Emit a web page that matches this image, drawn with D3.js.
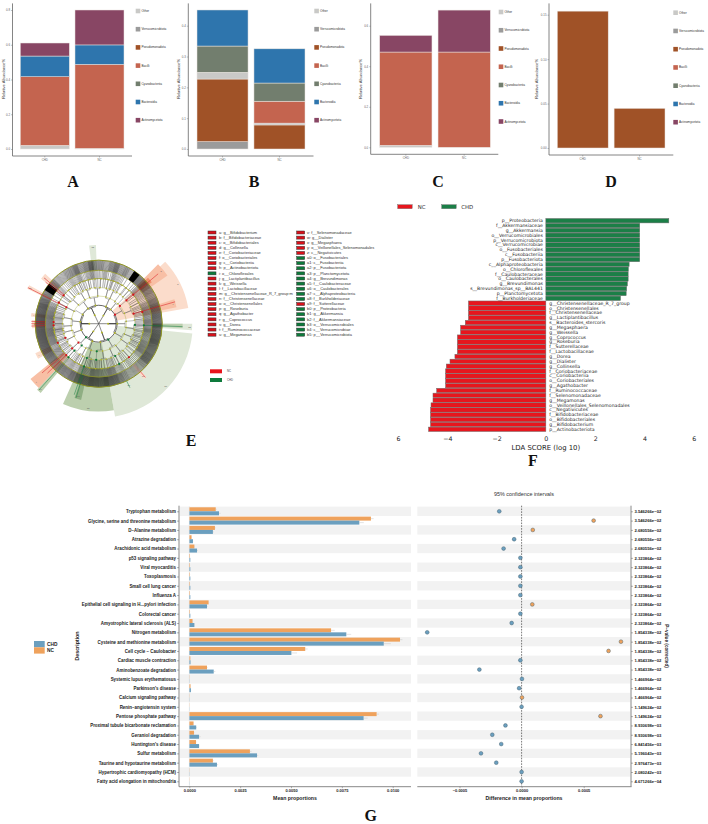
<!DOCTYPE html>
<html>
<head>
<meta charset="utf-8">
<script src="https://cdn.jsdelivr.net/npm/d3@7"></script>
<style>
  html, body { margin: 0; background: #fff; }
  svg { display: block; font-family: "Liberation Sans", Arial, sans-serif; }
  .tiny-axis text { font-size: 2.9px; fill: #666; }
  .tiny-axis line { stroke: #666; stroke-width: 0.4; }
  .tiny-axis path { display: none; }
  .panel-letter { font-family: "Liberation Serif", serif; font-weight: 700; font-size: 16px; text-anchor: middle; fill: #111; }
  .lda text { font-family: "DejaVu Sans", sans-serif; }
  .bold4 text { font-weight: 700; fill: #222; }
</style>
</head>
<body>
<div id="chart"></div>
<script>
// ---- Community composition (panels A-D) ----
const groups = ["CHD", "NC"];
const taxa = ["Other", "Verrucomicrobiota", "Pseudomonadota", "Bacilli", "Cyanobacteriia", "Bacteroidia", "Actinomycetota"];
const taxaColors = ["#c9c9c7", "#9b9b9b", "#a05227", "#c4644f", "#727e6e", "#2e75ad", "#884664"];

const stackOrderDefault = ["Other", "Verrucomicrobiota", "Pseudomonadota", "Bacilli", "Cyanobacteriia", "Bacteroidia", "Actinomycetota"];
const stackOrderB = ["Verrucomicrobiota", "Pseudomonadota", "Other", "Bacilli", "Cyanobacteriia", "Bacteroidia", "Actinomycetota"];

// abundances listed in the same order as `taxa`
const panelA_CHD = [0.021, 0, 0, 0.395, 0, 0.119, 0.075];
const panelA_NC  = [0.004, 0, 0, 0.483, 0, 0.112, 0.201];
const panelB_CHD = [0.022, 0.024, 0.203, 0, 0.085, 0.117, 0];
const panelB_NC  = [0.006, 0, 0.078, 0.071, 0.059, 0.111, 0];
const panelC_CHD = [0.010, 0, 0, 0.460, 0, 0, 0.082];
const panelC_NC  = [0, 0, 0, 0.470, 0, 0, 0.207];
const panelD_CHD = [0, 0, 0.154, 0, 0, 0, 0];
const panelD_NC  = [0, 0, 0.0446, 0, 0, 0, 0];

// ---- LEfSe cladogram (panel E) ----
const cladogramLegendLeft = [
  "a: g__Bifidobacterium", "b: f__Bifidobacteriaceae", "c: o__Bifidobacteriales", "d: g__Collinsella",
  "e: f__Coriobacteriaceae", "f: o__Coriobacteriales", "g: c__Coriobacteriia", "h: p__Actinobacteriota",
  "i: o__Chloroflexales", "j: g__Lactiplantibacillus", "k: g__Weissella", "l: f__Lactobacillaceae",
  "m: g__Christensenellaceae_R_7_group:m", "n: f__Christensenellaceae", "o: o__Christensenellales",
  "p: g__Roseburia", "q: g__Agathobacter", "r: g__Coprococcus", "s: g__Dorea", "t: f__Ruminococcaceae", "u: g__Megamonas"
];
const cladogramLegendRight = [
  "v: f__Selenomonadaceae", "w: g__Dialister", "x: g__Megasphaera", "y: o__Veillonellales_Selenomonadales",
  "z: c__Negativicutes", "a0: o__Fusobacteriales", "a1: c__Fusobacteriia", "a2: p__Fusobacteriota",
  "a3: p__Planctomycetota", "a4: g__Brevundimonas", "a5: f__Caulobacteraceae", "a6: o__Caulobacterales",
  "a7: c__Alphaproteobacteria", "a8: f__Burkholderiaceae", "a9: f__Sutterellaceae", "b0: p__Proteobacteria",
  "b1: g__Akkermansia", "b2: f__Akkermansiaceae", "b3: o__Verrucomicrobiales", "b4: c__Verrucomicrobiae", "b5: p__Verrucomicrobiota"
];
const legendLeftGroup  = [1,1,1,1,1,1,1,1,2,1,1,1,1,1,1,1,1,1,1,1,1];
const legendRightGroup = [1,1,1,1,1,2,2,2,2,2,2,2,2,2,1,2,2,2,2,2,2];

// clade highlights: start deg, end deg, inner reach, outer reach, group (1 NC, 2 CHD), strength, tag
const cladeHighlights = [
  [96, 170, 30, 148, 2, 0, "b0"],
  [170, 204, 30, 138, 2, 1, "b5"],
  [193, 198, 100, 123, 2, 2, "b4"],
  [47, 80, 30, 143, 1, 0, "h"],
  [45, 55, 84, 132, 1, 1, "g"],
  [47, 52, 84, 106, 1, 2, ""],
  [72, 78, 84, 125, 1, 1, "f"],
  [308, 313, 84, 115, 1, 0, "i"],
  [296, 299, 84, 125, 1, 0, "a9"],
  [276, 279, 84, 107, 1, 0, "j"],
  [266, 273, 84, 105, 1, 0, "k"],
  [240, 245, 84, 110, 1, 0, "l"],
  [223, 231, 71, 138, 1, 1, "t"],
  [220, 223, 71, 142, 2, 1, "a4"],
  [353, 358, 84, 124, 2, 0, "a3"],
  [90, 94, 84, 147, 2, 0, "a2"],
  [90, 93, 84, 132, 2, 1, ""],
  [152, 156, 84, 112, 2, 0, "a8"],
  [138, 141, 84, 112, 1, 0, "a9"]
];

// tree nodes per ring: angle deg, index of the parent on the ring within, group
const ring1Nodes = [[270,0,0],[90,0,0],[335,0,0],[30,0,0],[160,0,0],[215,0,0]];
const ring2Nodes = [[276,0,0],[250,0,0],[300,0,0],[325,2,0],[350,2,0],[23,3,0],[40,3,0],[61,1,1],[90,1,0],[120,1,0],[149,4,2],[175,4,0],[200,5,0],[223,5,2]];
const ring3Nodes = [[266,0,0],[280,0,0],[243,1,0],[256,1,0],[297,2,0],[313,3,0],[330,3,0],[341,4,0],[358,4,0],[15,5,0],[24,5,0],[36,6,0],[44,6,0],[50,7,1],[68,7,0],[85,8,0],[98,8,0],[112,9,0],[125,9,0],[142,10,0],[156,10,0],[172,11,0],[184,11,2],[196,12,0],[208,12,0],[227,13,1],[218,13,2]];
const ring4Nodes = [[262,0,0],[270,0,0],[278,1,0],[285,1,0],[240,2,0],[247,2,1],[254,3,0],[259,3,0],[294,4,0],[297,4,1],[308,5,0],[318,5,0],[326,6,0],[334,6,0],[340,7,0],[346,7,0],[354,8,0],[2,8,0],[12,9,0],[18,9,0],[24,10,0],[30,10,0],[36,11,0],[42,12,0],[50,13,1],[62,14,0],[74,14,1],[84,15,0],[92,16,2],[100,16,0],[108,17,0],[116,17,0],[122,18,0],[129,18,0],[138,19,0],[146,19,0],[153,20,2],[160,20,0],[168,21,0],[176,21,0],[184,22,2],[192,23,0],[199,23,2],[206,24,0],[212,24,0],[222,26,2],[227,25,1],[233,25,0]];
const ring5Nodes = [[260,0,0],[264,0,0],[268,1,1],[272,1,1],[278,2,0],[284,3,0],[240,4,0],[245,5,1],[252,6,0],[258,7,0],[294,8,0],[298,9,1],[309,10,1],[318,11,0],[328,12,0],[335,13,0],[341,14,0],[347,15,0],[355,16,0],[3,17,0],[12,18,0],[19,19,0],[25,20,0],[31,21,0],[37,22,0],[42,23,0],[50,24,1],[62,25,0],[75,26,1],[84,27,0],[92,28,2],[101,29,0],[108,30,0],[116,31,0],[122,32,0],[129,33,0],[138,34,1],[146,35,0],[153,36,2],[160,37,0],[168,38,0],[176,39,0],[184,40,0],[192,41,0],[199,42,2],[206,43,0],[212,44,0],[222,45,2],[226,46,1],[233,47,0]];

// branch counts per 5 degree sector, starting at north and running clockwise
const branchCountsInner = [
  1,2,1,3,1,2,0,1,1, 2,1,2,1,3,2,3,2,3, 3,2,2,3,2,3,2,1,1, 1,2,1,1,2,3,2,1,2,
  3,2,3,2,1,2,3,2,1, 2,2,3,2,3,2,3,4,3, 3,4,3,2,2,1,1,2,1, 1,2,1,2,2,1,2,1,2
];
const branchCountsMiddle = [
  3,5,2,6,4,3,1,1,2, 7,5,4,3,6,8,8,7,9, 8,9,7,6,8,9,10,6,3, 3,4,2,5,4,8,9,6,7,
  8,9,6,7,5,4,6,5,3, 5,7,8,6,9,9,10,10,9, 9,10,9,8,6,2,1,3,5, 2,3,5,4,6,3,5,7,4
];
const branchCountsOuter = [
  8,6,9,12,7,9,6,10,14, 14,12,10,8,10,12,12,13,12, 14,13,14,15,13,12,14,15,10, 8,7,6,8,10,13,14,15,13,
  14,15,13,14,12,13,11,12,10, 9,13,14,15,15,15,15,15,14, 15,15,14,15,13,10,11,9,12, 7,6,8,9,12,7,9,14,8
];

// fully collapsed clades drawn solid: start deg, end deg, inner reach, outer reach
const solidClades = [[34, 40, 84, 100], [302, 309, 84, 100]];
// significant lineages: angle deg, from reach, to reach, group
const markedLineages = [
  [74,57,125,1],[50,57,100,1],[50,100,122,1],[297,57,125,1],[308,71,106,1],[310,71,112,1],[268,84,106,1],[270,84,106,1],[272,84,106,1],
  [226,71,112,1],[229,71,118,1],[199,71,118,2],[197,84,122,2],[92,71,132,2],[222,100,140,2],[139,100,112,1],[154,100,112,2]
];

// ---- LDA scores (panel F) ----
const ldaTaxa = [
  "p__Proteobacteria","f__Akkermansiaceae","g__Akkermansia","o__Verrucomicrobiales","p__Verrucomicrobiota","c__Verrucomicrobiae",
  "o__Fusobacteriales","c__Fusobacteriia","p__Fusobacteriota","c__Alphaproteobacteria","o__Chloroflexales","f__Caulobacteraceae",
  "o__Caulobacterales","g__Brevundimonas","s__Brevundimonas_sp__BAL441","p__Planctomycetota","f__Burkholderiaceae",
  "g__Christensenellaceae_R_7_group","o__Christensenellales","f__Christensenellaceae","g__Lactiplantibacillus","s__Bacteroides_stercoris",
  "g__Megasphaera","g__Weissella","g__Coprococcus","g__Roseburia","f__Sutterellaceae","f__Lactobacillaceae","g__Dorea","g__Dialister",
  "g__Collinsella","f__Coriobacteriaceae","c__Coriobacteriia","o__Coriobacteriales","g__Agathobacter","f__Ruminococcaceae",
  "f__Selenomonadaceae","g__Megamonas","o__Veillonellales_Selenomonadales","c__Negativicutes","f__Bifidobacteriaceae",
  "o__Bifidobacteriales","g__Bifidobacterium","p__Actinobacteriota"
];
const ldaScores = [
  4.99,3.81,3.81,3.81,3.81,3.81,3.81,3.81,3.81,3.38,3.35,3.34,3.34,3.31,3.28,3.26,3.03,
  -3.14,-3.14,-3.14,-3.14,-3.27,-3.46,-3.46,-3.59,-3.59,-3.59,-3.59,-3.69,-3.89,-4.04,-4.07,-4.07,-4.07,-4.07,-4.43,-4.58,-4.58,-4.66,-4.68,-4.68,-4.68,-4.68,-4.76
];

// ---- KEGG pathway comparison (panel G) ----
const pathways = [
  "Tryptophan metabolism","Glycine, serine and threonine metabolism","D\u2212Alanine metabolism","Atrazine degradation","Arachidonic acid metabolism",
  "p53 signaling pathway","Viral myocarditis","Toxoplasmosis","Small cell lung cancer","Influenza A",
  "Epithelial cell signaling in H...pylori infection","Colorectal cancer","Amyotrophic lateral sclerosis (ALS)","Nitrogen metabolism","Cysteine and methionine metabolism",
  "Cell cycle \u2212 Caulobacter","Cardiac muscle contraction","Aminobenzoate degradation","Systemic lupus erythematosus","Parkinson's disease",
  "Calcium signaling pathway","Renin\u2212angiotensin system","Pentose phosphate pathway","Proximal tubule bicarbonate reclamation","Geraniol degradation",
  "Huntington's disease","Sulfur metabolism","Taurine and hypotaurine metabolism","Hypertrophic cardiomyopathy (HCM)","Fatty acid elongation in mitochondria"
];
const meanNC = [.00130,.00893,.00126,.00011,.00025,.00003,.00003,.00003,.00003,.00003,.00095,.00003,.00016,.00697,.01036,.00570,.00005,.00087,.00001,.00006,.00001,.00001,.00921,.00021,.00023,.00033,.00298,.00116,.00001,.00001];
const meanCHD = [.00146,.00836,.00116,.00018,.00038,.00005,.00005,.00005,.00005,.00005,.00087,.00005,.00025,.00772,.00956,.00502,.00006,.00120,.00001,.00008,.00001,.00001,.00857,.00034,.00048,.00048,.00333,.00136,.00001,.00001];
const errNC = [.00005,.00013,.00004,.00001,.00003,.00001,.00001,.00001,.00001,.00001,.00003,.00001,.00002,.00018,.00012,.00012,.00001,.00003,.00001,.00001,.00001,.00001,.00012,.00002,.00002,.00002,.00008,.00004,.00001,.00001];
const errCHD = [.00008,.00022,.00004,.00001,.00005,.00001,.00001,.00001,.00001,.00001,.00003,.00001,.00003,.00024,.00035,.00028,.00001,.00008,.00001,.00001,.00001,.00001,.00020,.00004,.00008,.00002,.00006,.00006,.00001,.00001];
const meanDiff = [-.00018,.00058,.00009,-.00006,-.000145,-.00001,-.00001,-.00001,-.00001,-.00001,.000086,-.00001,-.00008,-.00076,.00080,.00070,-.00001,-.00034,.000003,-.00002,.000003,0,.000635,-.00013,-.000236,-.000164,-.000327,-.000204,0,0];
const enrichedIn = ["CHD","NC","NC","CHD","CHD","CHD","CHD","CHD","CHD","CHD","NC","CHD","CHD","CHD","NC","NC","CHD","CHD","CHD","CHD","NC","CHD","NC","CHD","CHD","CHD","CHD","CHD","CHD","CHD"];
const correctedP = [
  "3.546266e\u221202","3.546266e\u221202","2.680556e\u221202","2.680556e\u221202","2.680556e\u221202",
  "2.323864e\u221202","2.323864e\u221202","2.323864e\u221202","2.323864e\u221202","2.323864e\u221202","2.323864e\u221202","2.323864e\u221202","2.323864e\u221202",
  "1.854338e\u221202","1.854338e\u221202","1.854338e\u221202","1.854338e\u221202","1.854338e\u221202",
  "1.466964e\u221202","1.466964e\u221202","1.466964e\u221202","1.149624e\u221202","1.149624e\u221202",
  "8.930698e\u221203","8.930698e\u221203","6.841456e\u221203","5.196043e\u221203","2.976473e\u221203","2.080242e\u221203","4.671266e\u221204"
];

const svg = d3.select("#chart").append("svg").attr("width", 708).attr("height", 824);

// ---------- stacked composition panels ----------
function compositionPanel(cfg) {
  const g = svg.append("g");
  const rows = groups.map((name, i) => {
    const row = { group: name };
    taxa.forEach((t, j) => { row[t] = cfg.values[i][j]; });
    return row;
  });
  const x = d3.scaleBand().domain(groups).range([cfg.barLeft, cfg.barRight]).paddingInner(0.104);
  const y = d3.scaleLinear().domain([0, cfg.topTick]).range([cfg.base, cfg.topY]);
  const layers = d3.stack().keys(cfg.order)(rows);

  g.selectAll("g.layer").data(layers).join("g")
    .attr("fill", d => taxaColors[taxa.indexOf(d.key)])
    .selectAll("rect").data(d => d.filter(s => s[1] > s[0])).join("rect")
    .attr("x", d => x(d.data.group)).attr("width", x.bandwidth())
    .attr("y", d => y(d[1])).attr("height", d => y(d[0]) - y(d[1]))
    .attr("stroke", "#e9e4e0").attr("stroke-width", 0.5);

  g.append("line").attr("x1", cfg.axisX).attr("x2", cfg.axisX).attr("y1", 3.4).attr("y2", cfg.axisY)
    .attr("stroke", "#666").attr("stroke-width", 0.8);
  g.append("line").attr("x1", cfg.axisX).attr("x2", cfg.axisEnd).attr("y1", cfg.axisY).attr("y2", cfg.axisY)
    .attr("stroke", "#666").attr("stroke-width", 0.8);

  g.append("g").attr("class", "tiny-axis").attr("transform", `translate(${cfg.axisX},0)`)
    .call(d3.axisLeft(y).tickValues(cfg.ticks).tickFormat(d3.format(cfg.fmt)).tickSize(1.5).tickPadding(1));
  g.append("g").attr("class", "tiny-axis").attr("transform", `translate(0,${cfg.axisY})`)
    .call(d3.axisBottom(x).tickSize(1.5).tickPadding(1.2));

  g.append("text").attr("transform", `translate(${cfg.labelX},79) rotate(-90)`)
    .attr("text-anchor", "middle").attr("font-size", 4.1).attr("fill", "#333").text("Relative Abundance%");

  taxa.forEach((t, i) => {
    const ly = cfg.legendY + i * cfg.legendStep;
    g.append("rect").attr("x", cfg.legendX).attr("y", ly - 2.3).attr("width", 4.6).attr("height", 4.6).attr("fill", taxaColors[i]);
    g.append("text").attr("x", cfg.legendX + 5.7).attr("y", ly + 1).attr("font-size", 3.1).attr("fill", "#333").text(t);
  });
}

compositionPanel({ values: [panelA_CHD, panelA_NC], order: stackOrderDefault, barLeft: 20.3, barRight: 124, base: 149, topY: 10, topTick: 0.8,
  ticks: [0, 0.2, 0.4, 0.6, 0.8], fmt: ".1f", axisX: 12.5, axisY: 156, axisEnd: 132, labelX: 4.7, legendX: 135.7, legendY: 11, legendStep: 18.2 });
compositionPanel({ values: [panelB_CHD, panelB_NC], order: stackOrderB, barLeft: 197, barRight: 305, base: 149, topY: 25.7, topTick: 0.4,
  ticks: [0, 0.1, 0.2, 0.3, 0.4], fmt: ".1f", axisX: 188.3, axisY: 156, axisEnd: 313.5, labelX: 180, legendX: 314.3, legendY: 11, legendStep: 18.2 });
compositionPanel({ values: [panelC_CHD, panelC_NC], order: stackOrderDefault, barLeft: 379.7, barRight: 490.3, base: 147.3, topY: 25.7, topTick: 0.6,
  ticks: [0, 0.2, 0.4, 0.6], fmt: ".1f", axisX: 370.7, axisY: 154.3, axisEnd: 498.3, labelX: 361.7, legendX: 498.7, legendY: 12, legendStep: 18.25 });
compositionPanel({ values: [panelD_CHD, panelD_NC], order: stackOrderDefault, barLeft: 557.3, barRight: 665, base: 148, topY: 14.7, topTick: 0.15,
  ticks: [0, 0.05, 0.10, 0.15], fmt: ".2f", axisX: 549, axisY: 155, axisEnd: 673.3, labelX: 538, legendX: 673.3, legendY: 12.7, legendStep: 18.25 });

// ---------- cladogram ----------
const cladeG = svg.append("g").attr("transform", "translate(98.7,323.7)");
const reach = d3.scaleLinear().domain([0, 100]).range([0, 63.6]);
const deg = d3.scaleLinear().domain([0, 360]).range([0, 2 * Math.PI]);
const ringReach = [0, 14.7, 29.3, 43.5, 57, 71, 84, 100];
const tints = {
  1: ["#fbdccb", "#f8bfa5", "#ef8f6c"],
  2: ["#dfe8d8", "#bccfae", "#8fae83"]
};
const groupColor = { 0: "#b4b626", 1: "#d8101a", 2: "#0d7a3a" };
const arcGen = d3.arc();

cladeG.selectAll("path.clade").data(cladeHighlights).join("path")
  .attr("d", d => arcGen({ startAngle: deg(d[0]), endAngle: deg(d[1]), innerRadius: reach(d[2]), outerRadius: reach(d[3]) }))
  .attr("fill", d => tints[d[4]][d[5]]);

cladeG.selectAll("text.tag").data(cladeHighlights.filter(d => d[6])).join("text")
  .attr("transform", d => {
    const p = d3.pointRadial(deg((d[0] + d[1]) / 2), reach(d[3] - 4));
    return `translate(${p[0]},${p[1]})`;
  })
  .attr("text-anchor", "middle").attr("dy", 0.8).attr("font-size", 2.2).attr("fill", "#555").text(d => d[6]);

// densely branching outer clades, one band per taxonomic rank
function branchBand(counts, from, to, width) {
  const p = d3.path();
  counts.forEach((n, i) => {
    d3.range(n).forEach(k => {
      const a = deg(i * 5 + (k + 0.5) * 5 / n);
      const p0 = d3.pointRadial(a, reach(from));
      const p1 = d3.pointRadial(a, reach(to));
      p.moveTo(p0[0], p0[1]);
      p.lineTo(p1[0], p1[1]);
    });
  });
  cladeG.append("path").attr("d", p.toString()).attr("stroke", "#111").attr("stroke-width", width).attr("fill", "none");
}
branchBand(branchCountsInner, ringReach[4], ringReach[5], 0.34);
branchBand(branchCountsMiddle, ringReach[5], ringReach[6], 0.34);
branchBand(branchCountsOuter, ringReach[6], ringReach[7], 0.36);

// parent-to-child connectors from one ring to the next
function connect(nodes, parents, level) {
  const p = d3.path();
  const rp = reach(ringReach[level - 1]);
  const rc = reach(ringReach[level]);
  const rm = rp + (rc - rp) * 0.86;
  nodes.forEach(n => {
    const pa = parents ? parents[n[1]][0] : n[0];
    const delta = ((n[0] - pa + 540) % 360) - 180;
    const a0 = d3.pointRadial(deg(pa), rp);
    const a1 = d3.pointRadial(deg(pa), rm);
    const c1 = d3.pointRadial(deg(n[0]), rm);
    const c2 = d3.pointRadial(deg(n[0]), rc);
    p.moveTo(a0[0], a0[1]);
    p.lineTo(a1[0], a1[1]);
    p.arc(0, 0, rm, deg(pa) - Math.PI / 2, deg(pa + delta) - Math.PI / 2, delta < 0);
    p.moveTo(c1[0], c1[1]);
    p.lineTo(c2[0], c2[1]);
  });
  cladeG.append("path").attr("d", p.toString()).attr("fill", "none")
    .attr("stroke", level <= 2 ? "#2a2a2a" : "#555").attr("stroke-width", level <= 2 ? 0.55 : 0.4);
}
const rings = [ring1Nodes, ring2Nodes, ring3Nodes, ring4Nodes, ring5Nodes];
rings.forEach((nodes, i) => connect(nodes, i ? rings[i - 1] : null, i + 1));

cladeG.append("circle").attr("r", reach(ringReach[2]) - 0.2).attr("fill", "none").attr("stroke", "#222").attr("stroke-width", 0.7);
[3, 4].forEach(i => cladeG.append("circle").attr("r", reach(ringReach[i])).attr("fill", "none").attr("stroke", "#9ba030").attr("stroke-width", 0.35));
[5, 6, 7].forEach(i => cladeG.append("circle").attr("r", reach(ringReach[i])).attr("fill", "none").attr("stroke", "#8f9420").attr("stroke-width", i === 7 ? 1 : 0.8));

cladeG.selectAll("path.solid").data(solidClades).join("path")
  .attr("d", d => arcGen({ startAngle: deg(d[0]), endAngle: deg(d[1]), innerRadius: reach(d[2]), outerRadius: reach(d[3]) }))
  .attr("fill", "#000");

cladeG.selectAll("line.marked").data(markedLineages).join("line")
  .each(function(d) {
    const a = d3.pointRadial(deg(d[0]), reach(d[1]));
    const b = d3.pointRadial(deg(d[0]), reach(d[2]));
    d3.select(this).attr("x1", a[0]).attr("y1", a[1]).attr("x2", b[0]).attr("y2", b[1]);
  })
  .attr("stroke", d => groupColor[d[3]]).attr("stroke-width", 0.5);

rings.forEach((nodes, i) => {
  cladeG.selectAll(null).data(nodes).join("circle")
    .attr("cx", d => d3.pointRadial(deg(d[0]), reach(ringReach[i + 1]))[0])
    .attr("cy", d => d3.pointRadial(deg(d[0]), reach(ringReach[i + 1]))[1])
    .attr("r", d => d[2] ? 1.1 : (i < 2 ? 0.95 : 0.75))
    .attr("fill", d => groupColor[d[2]]);
});

// cladogram legend
const cladeLegendG = svg.append("g");
function cladeLegendColumn(names, gs, swatchX, textX, y) {
  cladeLegendG.selectAll(null).data(names).join("rect")
    .attr("x", swatchX).attr("y", (d, i) => y(i) - 1.5).attr("width", 8).attr("height", 3)
    .attr("fill", (d, i) => groupColor[gs[i]]).attr("stroke", "#333").attr("stroke-width", 0.5);
  cladeLegendG.selectAll(null).data(names).join("text")
    .attr("x", textX).attr("y", (d, i) => y(i) + 1.2).attr("font-size", 3.95).attr("fill", "#333").text(d => d);
}
const legendRow = d3.scaleLinear().domain([0, 20]).range([232.5, 334.7]);
cladeLegendColumn(cladogramLegendLeft, legendLeftGroup, 208, 219, legendRow);
cladeLegendColumn(cladogramLegendRight, legendRightGroup, 296.7, 307, legendRow);
[["NC", "#e8141c", 371.3], ["CHD", "#0e7a3c", 380]].forEach(d => {
  cladeLegendG.append("rect").attr("x", 210).attr("y", d[2] - 2).attr("width", 12).attr("height", 4).attr("fill", d[1]);
  cladeLegendG.append("text").attr("x", 227).attr("y", d[2] + 1).attr("font-size", 2.8).attr("fill", "#444").text(d[0]);
});

// ---------- LDA score bars ----------
const ldaG = svg.append("g").attr("class", "lda");
const ldaX = d3.scaleLinear().domain([-6, 6]).range([398, 693.7]);
const ldaY = d3.scalePoint().domain(ldaTaxa).range([220.7, 429.3]);
ldaG.selectAll("rect.bar").data(ldaTaxa).join("rect")
  .attr("x", (d, i) => Math.min(ldaX(0), ldaX(ldaScores[i])))
  .attr("width", (d, i) => Math.abs(ldaX(ldaScores[i]) - ldaX(0)))
  .attr("y", d => ldaY(d) - 2.2).attr("height", 4.4)
  .attr("fill", (d, i) => ldaScores[i] > 0 ? "#1b7f47" : "#e7161d")
  .attr("stroke", "#6c6c6c").attr("stroke-width", 0.5);
ldaG.selectAll("text.name").data(ldaTaxa).join("text")
  .attr("x", (d, i) => ldaScores[i] > 0 ? ldaX(0) - 3 : ldaX(0) + 3.4)
  .attr("y", d => ldaY(d) + 1.5)
  .attr("text-anchor", (d, i) => ldaScores[i] > 0 ? "end" : "start")
  .attr("font-size", 4.6).attr("fill", "#222").text(d => d);
ldaG.append("g").attr("transform", "translate(0,434)")
  .call(d3.axisBottom(ldaX).tickValues([-6, -4, -2, 0, 2, 4, 6]).tickSize(0).tickPadding(3)
    .tickFormat(d => d === -6 ? "6" : d3.format("d")(d)))
  .call(a => a.select(".domain").remove())
  .call(a => a.selectAll("text").attr("font-size", 6.3).attr("fill", "#222"));
ldaG.append("text").attr("x", ldaX(0)).attr("y", 449.5).attr("text-anchor", "middle").attr("font-size", 6.9).attr("fill", "#222").text("LDA SCORE (log 10)");
[["NC", "#e7161d", 397.7, 417.7], ["CHD", "#1b7f47", 441.7, 461.3]].forEach(d => {
  ldaG.append("rect").attr("x", d[2]).attr("y", 204.7).attr("width", 14.5).attr("height", 4).attr("fill", d[1]).attr("stroke", "#666").attr("stroke-width", 0.4);
  ldaG.append("text").attr("x", d[3]).attr("y", 208.8).attr("font-size", 5.4).attr("fill", "#333").text(d[0]);
});

// ---------- extended error bar plot ----------
const pathG = svg.append("g");
const rowY = d3.scalePoint().domain(pathways).range([511.3, 781.3]);
const rowH = rowY.step();
const meanX = d3.scaleLinear().domain([0, 0.01]).range([189.3, 392.7]);
const diffX = d3.scaleLinear().domain([-0.0005, 0.0005]).range([459.5, 583.7]);
const orange = "#efa25c", blue = "#6b9fbf";

pathG.selectAll("rect.left-stripe").data(pathways.filter((d, i) => i % 2 === 0)).join("rect")
  .attr("x", 180).attr("width", 231).attr("y", d => rowY(d) - rowH / 2).attr("height", rowH).attr("fill", "#f2f2f2");
pathG.selectAll("rect.right-stripe").data(pathways.filter((d, i) => i % 2 === 0)).join("rect")
  .attr("x", 417.3).attr("width", 213).attr("y", d => rowY(d) - rowH / 2).attr("height", rowH).attr("fill", "#f2f2f2");

function meanBars(values, errors, color, offset) {
  pathG.selectAll(null).data(pathways).join("rect")
    .attr("x", meanX(0)).attr("width", (d, i) => meanX(values[i]) - meanX(0))
    .attr("y", d => rowY(d) + offset).attr("height", 4).attr("fill", color);
  pathG.selectAll(null).data(pathways).join("line")
    .attr("x1", (d, i) => meanX(values[i])).attr("x2", (d, i) => meanX(values[i] + errors[i]))
    .attr("y1", d => rowY(d) + offset + 2).attr("y2", d => rowY(d) + offset + 2)
    .attr("stroke", "#c9c9c9").attr("stroke-width", 0.5);
}
meanBars(meanNC, errNC, orange, -4);
meanBars(meanCHD, errCHD, blue, 0);

// zero reference of the mean proportions panel
pathG.append("line").attr("x1", meanX(0)).attr("x2", meanX(0)).attr("y1", 506).attr("y2", 787).attr("stroke", "#d8d8d8").attr("stroke-width", 0.3);

pathG.append("g").attr("class", "bold4").attr("transform", "translate(179,0)")
  .call(d3.axisLeft(rowY).tickSize(2).tickPadding(1))
  .call(a => a.select(".domain").attr("stroke", "#888").attr("stroke-width", 1).attr("d", "M0,505.7V786.7"))
  .call(a => a.selectAll("line").attr("stroke", "#444").attr("stroke-width", 0.4))
  .call(a => a.selectAll("text").attr("font-size", 4.45));

pathG.append("g").attr("class", "bold4").attr("transform", "translate(0,786.7)")
  .call(d3.axisBottom(meanX).tickValues([0, 0.0025, 0.005, 0.0075, 0.01]).tickFormat(d3.format(".4f")).tickSize(1.5).tickPadding(1))
  .call(a => a.select(".domain").attr("stroke", "#888").attr("stroke-width", 1).attr("d", "M179,0H411"))
  .call(a => a.selectAll("line").attr("stroke", "#444").attr("stroke-width", 0.4))
  .call(a => a.selectAll("text").attr("font-size", 4));

pathG.append("line").attr("x1", diffX(0)).attr("x2", diffX(0)).attr("y1", 505.7).attr("y2", 786.7)
  .attr("stroke", "#222").attr("stroke-width", 0.6).attr("stroke-dasharray", "1.6,1.2");

pathG.selectAll("circle.diff").data(pathways).join("circle")
  .attr("cx", (d, i) => diffX(meanDiff[i])).attr("cy", d => rowY(d)).attr("r", 1.9)
  .attr("fill", (d, i) => enrichedIn[i] === "NC" ? orange : blue)
  .attr("stroke", "#45606e").attr("stroke-width", 0.45);

pathG.append("g").attr("class", "bold4").attr("transform", "translate(631,0)")
  .call(d3.axisRight(rowY).tickSize(2).tickPadding(1.4).tickFormat((d, i) => correctedP[i]))
  .call(a => a.select(".domain").attr("stroke", "#888").attr("stroke-width", 1).attr("d", "M0,505.7V786.7"))
  .call(a => a.selectAll("line").attr("stroke", "#444").attr("stroke-width", 0.4))
  .call(a => a.selectAll("text").attr("font-size", 4.2));

pathG.append("g").attr("class", "bold4").attr("transform", "translate(0,786.7)")
  .call(d3.axisBottom(diffX).tickValues([-0.0005, 0, 0.0005]).tickFormat(d3.format(".4f")).tickSize(1.5).tickPadding(1))
  .call(a => a.select(".domain").attr("stroke", "#888").attr("stroke-width", 1).attr("d", "M417.3,0H631.5"))
  .call(a => a.selectAll("line").attr("stroke", "#444").attr("stroke-width", 0.4))
  .call(a => a.selectAll("text").attr("font-size", 4));

const gText = (x, y, txt, size) => pathG.append("text").attr("x", x).attr("y", y).attr("text-anchor", "middle")
  .attr("font-size", size).attr("font-weight", 700).attr("fill", "#222").text(txt);
gText(295, 799.5, "Mean proportions", 5.2);
gText(524, 799.5, "Difference in mean proportions", 5.2);
pathG.append("text").attr("x", 524).attr("y", 495.6).attr("text-anchor", "middle").attr("font-size", 5.4).attr("fill", "#333").text("95% confidence intervals");
pathG.append("text").attr("transform", "translate(78.5,646) rotate(-90)").attr("text-anchor", "middle")
  .attr("font-size", 5.3).attr("font-weight", 700).attr("fill", "#222").text("Description");
pathG.append("text").attr("transform", "translate(665,646) rotate(90)").attr("text-anchor", "middle")
  .attr("font-size", 4.7).attr("font-weight", 700).attr("fill", "#222").text("P\u2212value (corrected)");

[["CHD", blue, 641], ["NC", orange, 647.3]].forEach(d => {
  pathG.append("rect").attr("x", 34).attr("y", d[2]).attr("width", 10.7).attr("height", 6.3).attr("fill", d[1]);
  pathG.append("text").attr("x", 47).attr("y", d[2] + 4.8).attr("font-size", 4.8).attr("font-weight", 700).attr("fill", "#222").text(d[0]);
});

// ---------- panel letters ----------
[["A", 73, 187], ["B", 254, 187], ["C", 438, 187], ["D", 611, 187], ["E", 191, 446], ["F", 533, 466], ["G", 370.7, 821]].forEach(d => {
  svg.append("text").attr("class", "panel-letter").attr("x", d[1]).attr("y", d[2]).text(d[0]);
});
</script>
</body>
</html>
